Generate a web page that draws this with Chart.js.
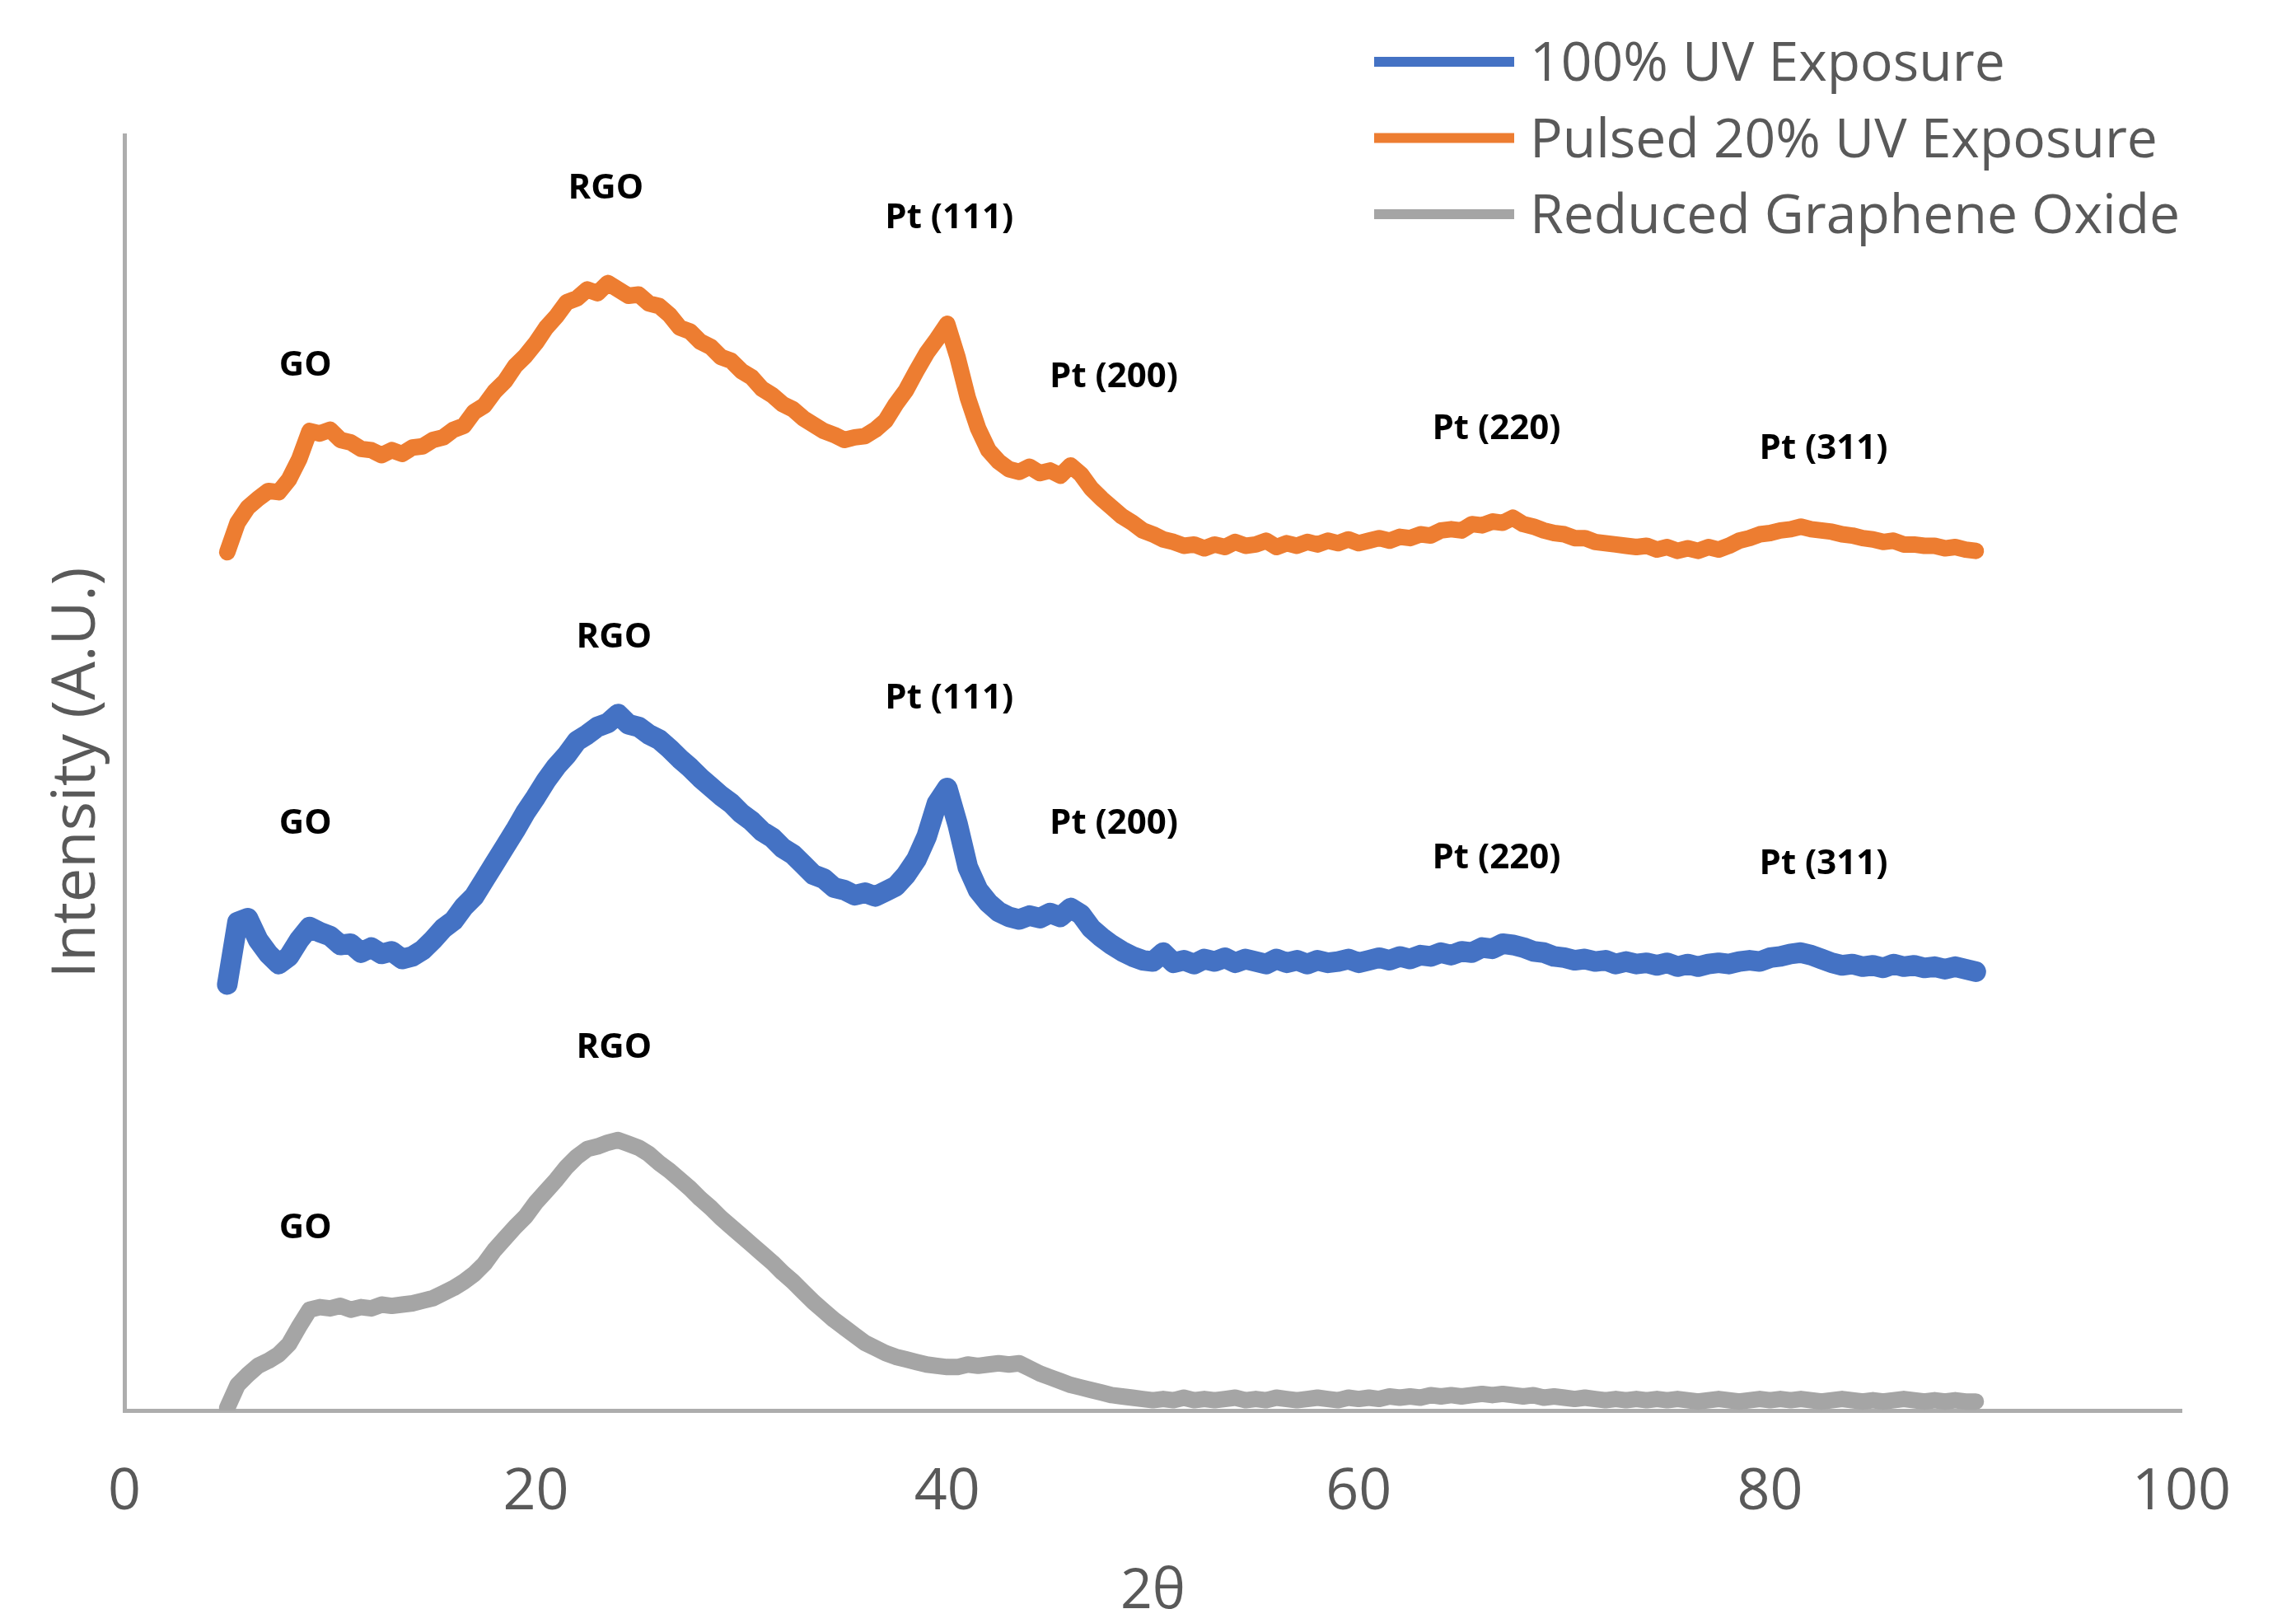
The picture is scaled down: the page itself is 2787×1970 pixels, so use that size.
<!DOCTYPE html>
<html><head><meta charset="utf-8">
<script src="https://cdn.jsdelivr.net/npm/chart.js@4.4.1/dist/chart.umd.min.js"></script>
<style>html,body{margin:0;padding:0;background:#fff;} #wrap{width:2787px;height:1970px;}</style>
</head><body><div id="wrap"><canvas id="c" width="2787" height="1970"></canvas></div>
<script>
// 2θ sample positions (degrees)
const twoTheta = [
  5, 5.5, 6, 6.5, 7, 7.5, 8, 8.5, 9, 9.5,
  10, 10.5, 11, 11.5, 12, 12.5, 13, 13.5, 14, 14.5,
  15, 15.5, 16, 16.5, 17, 17.5, 18, 18.5, 19, 19.5,
  20, 20.5, 21, 21.5, 22, 22.5, 23, 23.5, 24, 24.5,
  25, 25.5, 26, 26.5, 27, 27.5, 28, 28.5, 29, 29.5,
  30, 30.5, 31, 31.5, 32, 32.5, 33, 33.5, 34, 34.5,
  35, 35.5, 36, 36.5, 37, 37.5, 38, 38.5, 39, 39.5,
  40, 40.5, 41, 41.5, 42, 42.5, 43, 43.5, 44, 44.5,
  45, 45.5, 46, 46.5, 47, 47.5, 48, 48.5, 49, 49.5,
  50, 50.5, 51, 51.5, 52, 52.5, 53, 53.5, 54, 54.5,
  55, 55.5, 56, 56.5, 57, 57.5, 58, 58.5, 59, 59.5,
  60, 60.5, 61, 61.5, 62, 62.5, 63, 63.5, 64, 64.5,
  65, 65.5, 66, 66.5, 67, 67.5, 68, 68.5, 69, 69.5,
  70, 70.5, 71, 71.5, 72, 72.5, 73, 73.5, 74, 74.5,
  75, 75.5, 76, 76.5, 77, 77.5, 78, 78.5, 79, 79.5,
  80, 80.5, 81, 81.5, 82, 82.5, 83, 83.5, 84, 84.5,
  85, 85.5, 86, 86.5, 87, 87.5, 88, 88.5, 89, 89.5,
  90
];

// 100% UV Exposure (offset intensity, A.U.)
const uv100 = [
  33.4, 38.3, 38.6, 36.9, 35.8, 35.0, 35.6, 36.9, 37.9, 37.5,
  37.2, 36.5, 36.6, 35.9, 36.3, 35.8, 36.0, 35.4, 35.6, 36.1,
  36.9, 37.8, 38.4, 39.5, 40.3, 41.6, 42.9, 44.2, 45.5, 46.9,
  48.1, 49.4, 50.5, 51.4, 52.5, 53.0, 53.6, 53.9, 54.6, 53.8,
  53.6, 53.0, 52.6, 51.9, 51.1, 50.4, 49.6, 48.9, 48.2, 47.6,
  46.8, 46.2, 45.4, 44.9, 44.1, 43.6, 42.8, 42.0, 41.7, 41.0,
  40.8, 40.4, 40.6, 40.3, 40.7, 41.1, 42.0, 43.2, 45.0, 47.6,
  48.8, 46.0, 42.6, 40.8, 39.8, 39.1, 38.7, 38.5, 38.8, 38.6,
  39.0, 38.7, 39.4, 38.9, 37.8, 37.1, 36.5, 36.0, 35.6, 35.3,
  35.2, 35.9, 35.1, 35.3, 35.0, 35.4, 35.2, 35.5, 35.1, 35.4,
  35.2, 35.0, 35.4, 35.1, 35.3, 35.0, 35.3, 35.1, 35.2, 35.4,
  35.1, 35.3, 35.5, 35.3, 35.6, 35.4, 35.7, 35.6, 35.9, 35.7,
  36.0, 35.9, 36.3, 36.2, 36.6, 36.5, 36.3, 36.0, 35.9, 35.6,
  35.5, 35.3, 35.4, 35.2, 35.3, 35.0, 35.2, 35.0, 35.1, 34.9,
  35.1, 34.8, 35.0, 34.8, 35.0, 35.1, 35.0, 35.2, 35.3, 35.2,
  35.5, 35.6, 35.8, 35.9, 35.7, 35.4, 35.1, 34.9, 35.0, 34.8,
  34.9, 34.7, 35.0, 34.8, 34.9, 34.7, 34.8, 34.6, 34.8, 34.6,
  34.4
];

// Pulsed 20% UV Exposure
const pulsed20 = [
  67.3, 69.6, 70.8, 71.5, 72.1, 72.0, 73.0, 74.6, 76.8, 76.6,
  76.9, 76.1, 75.9, 75.4, 75.3, 74.9, 75.3, 75.0, 75.5, 75.6,
  76.1, 76.3, 76.9, 77.2, 78.3, 78.8, 79.9, 80.7, 81.9, 82.7,
  83.7, 84.9, 85.8, 86.9, 87.2, 87.9, 87.6, 88.4, 87.9, 87.4,
  87.5, 86.8, 86.6, 85.9, 84.9, 84.6, 83.8, 83.4, 82.6, 82.3,
  81.5, 81.0, 80.1, 79.6, 78.9, 78.5, 77.8, 77.3, 76.8, 76.5,
  76.1, 76.3, 76.4, 76.9, 77.6, 78.9, 80.0, 81.5, 82.9, 84.0,
  85.2, 82.6, 79.4, 77.0, 75.3, 74.4, 73.8, 73.6, 74.0, 73.5,
  73.7, 73.3, 74.1, 73.4, 72.3, 71.5, 70.8, 70.1, 69.6, 69.0,
  68.7, 68.3, 68.1, 67.8, 67.9, 67.6, 67.9, 67.7, 68.1, 67.8,
  67.9, 68.2, 67.7, 68.0, 67.8, 68.1, 67.9, 68.2, 68.0, 68.3,
  68.0, 68.2, 68.4, 68.2, 68.5, 68.4, 68.7, 68.6, 69.0, 69.1,
  69.0, 69.5, 69.4, 69.7, 69.6, 70.0, 69.5, 69.3, 69.0, 68.8,
  68.7, 68.4, 68.4, 68.1, 68.0, 67.9, 67.8, 67.7, 67.8, 67.5,
  67.7, 67.4, 67.6, 67.4, 67.7, 67.5, 67.8, 68.2, 68.4, 68.7,
  68.8, 69.0, 69.1, 69.3, 69.1, 69.0, 68.9, 68.7, 68.6, 68.4,
  68.3, 68.1, 68.2, 67.9, 67.9, 67.8, 67.8, 67.6, 67.7, 67.5,
  67.4
];

// Reduced Graphene Oxide
const rgo = [
  0.2, 2.0, 2.8, 3.5, 3.9, 4.4, 5.2, 6.6, 7.9, 8.1,
  8.0, 8.2, 7.9, 8.1, 8.0, 8.3, 8.2, 8.3, 8.4, 8.6,
  8.8, 9.2, 9.6, 10.1, 10.7, 11.5, 12.6, 13.5, 14.4, 15.2,
  16.3, 17.2, 18.1, 19.1, 19.9, 20.5, 20.7, 21.0, 21.2, 20.9,
  20.6, 20.1, 19.4, 18.8, 18.1, 17.4, 16.6, 15.9, 15.1, 14.4,
  13.7, 13.0, 12.3, 11.6, 10.8, 10.1, 9.3, 8.5, 7.8, 7.1,
  6.5, 5.9, 5.3, 4.9, 4.5, 4.2, 4.0, 3.8, 3.6, 3.5,
  3.4, 3.4, 3.6, 3.5, 3.6, 3.7, 3.6, 3.7, 3.3, 2.9,
  2.6, 2.3, 2.0, 1.8, 1.6, 1.4, 1.2, 1.1, 1.0, 0.9,
  0.8, 0.9, 0.8, 1.0, 0.8, 0.9, 0.8, 0.9, 1.0, 0.8,
  0.9, 0.8, 1.0, 0.9, 0.8, 0.9, 1.0, 0.9, 0.8, 1.0,
  0.9, 1.0, 0.9, 1.1, 1.0, 1.1, 1.0, 1.2, 1.1, 1.2,
  1.1, 1.2, 1.3, 1.2, 1.3, 1.2, 1.1, 1.2, 1.0, 1.1,
  1.0, 0.9, 1.0, 0.9, 0.8, 0.9, 0.8, 0.9, 0.8, 0.9,
  0.8, 0.9, 0.8, 0.7, 0.8, 0.9, 0.8, 0.7, 0.8, 0.9,
  0.8, 0.9, 0.8, 0.9, 0.8, 0.7, 0.8, 0.9, 0.8, 0.7,
  0.8, 0.7, 0.8, 0.9, 0.8, 0.7, 0.8, 0.7, 0.8, 0.7,
  0.7
];

const seriesLabels = ['100% UV Exposure', 'Pulsed 20% UV Exposure', 'Reduced Graphene Oxide'];
const xTicks = [0, 20, 40, 60, 80, 100];

// Peak annotations
const annoText = ['GO', 'RGO', 'Pt (111)', 'Pt (200)', 'Pt (220)', 'Pt (311)',
                  'GO', 'RGO', 'Pt (111)', 'Pt (200)', 'Pt (220)', 'Pt (311)',
                  'GO', 'RGO'];
const annoX = [8.8, 23.4, 40.1, 48.1, 66.7, 82.6,
               8.8, 23.8, 40.1, 48.1, 66.7, 82.6,
               8.8, 23.8];
const annoY = [82.1, 96.0, 93.7, 81.2, 77.1, 75.6,
               46.2, 60.8, 56.0, 46.2, 43.5, 43.0,
               14.5, 28.6];

const FONT = '"Open Sans", "DejaVu Sans", sans-serif';
const TEXT_GRAY = '#595959';
const AXIS_GRAY = '#ADADAD';

const annoPlugin = {
  id: 'peakLabels',
  afterDatasetsDraw(chart) {
    const ctx = chart.ctx;
    const xs = chart.scales.x, ys = chart.scales.y;
    ctx.save();
    ctx.fillStyle = '#000';
    ctx.font = 'bold 42px ' + FONT;
    ctx.textAlign = 'center';
    ctx.textBaseline = 'alphabetic';
    annoText.forEach((t, i) => {
      ctx.fillText(t, xs.getPixelForValue(annoX[i]), ys.getPixelForValue(annoY[i]) + 15);
    });
    ctx.restore();
  }
};

const legendPlugin = {
  id: 'sideLegend',
  afterDraw(chart) {
    const ctx = chart.ctx;
    ctx.save();
    chart.data.datasets.forEach((d, i) => {
      const yc = 75 + i * 92.5;
      ctx.strokeStyle = d.borderColor;
      ctx.lineWidth = 12;
      ctx.lineCap = 'butt';
      ctx.beginPath();
      ctx.moveTo(1668, yc);
      ctx.lineTo(1838, yc);
      ctx.stroke();
      ctx.fillStyle = TEXT_GRAY;
      ctx.font = '66px ' + FONT;
      ctx.textAlign = 'left';
      ctx.textBaseline = 'alphabetic';
      ctx.fillText(d.label, 1857, yc + 23);
    });
    ctx.restore();
  }
};

const pts = arr => twoTheta.map((x, i) => ({x: x, y: arr[i]}));
const lineStyle = {pointRadius: 0, tension: 0, fill: false, borderJoinStyle: 'round', borderCapStyle: 'round'};

new Chart(document.getElementById('c').getContext('2d'), {
  type: 'line',
  data: {
    datasets: [
      Object.assign({label: seriesLabels[0], data: pts(uv100), borderColor: '#4472C4', borderWidth: 25}, lineStyle),
      Object.assign({label: seriesLabels[1], data: pts(pulsed20), borderColor: '#ED7D31', borderWidth: 20}, lineStyle),
      Object.assign({label: seriesLabels[2], data: pts(rgo), borderColor: '#A5A5A5', borderWidth: 20}, lineStyle)
    ]
  },
  options: {
    responsive: false,
    animation: false,
    devicePixelRatio: 1,
    layout: {padding: {top: 164, right: 139, left: 0, bottom: 0}},
    plugins: {legend: {display: false}, tooltip: {enabled: false}},
    scales: {
      x: {
        type: 'linear', min: 0, max: 100,
        grid: {display: false, drawTicks: false},
        border: {display: true, color: AXIS_GRAY, width: 5},
        afterBuildTicks: s => { s.ticks = xTicks.map(v => ({value: v})); },
        ticks: {padding: 58, color: TEXT_GRAY, maxRotation: 0, font: {family: FONT, size: 70}},
        title: {display: true, text: '2θ', color: TEXT_GRAY, font: {family: FONT, size: 68, lineHeight: 1.1}, padding: {top: 0, bottom: 0}},
        afterFit: s => { s.height = 258; }
      },
      y: {
        type: 'linear', min: 0, max: 100,
        grid: {display: false, drawTicks: false},
        border: {display: true, color: AXIS_GRAY, width: 5},
        ticks: {display: false},
        title: {display: true, text: 'Intensity (A.U.)', color: TEXT_GRAY, font: {family: FONT, size: 74, lineHeight: 1.2}, padding: {top: 50, bottom: 0}},
        afterFit: s => { s.width = 151; }
      }
    }
  },
  plugins: [annoPlugin, legendPlugin]
});
</script>
</body></html>
